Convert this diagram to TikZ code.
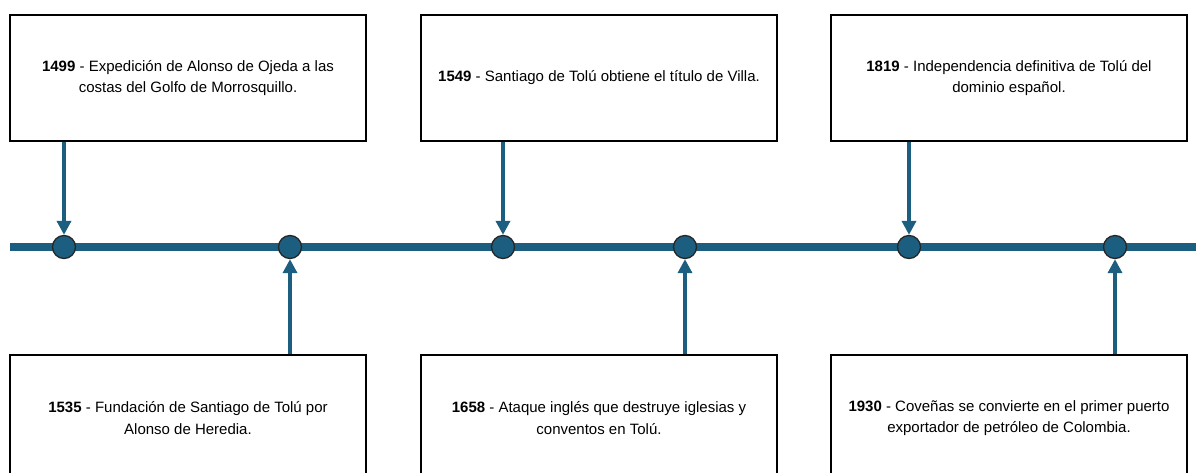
\documentclass[tikz,border=0pt]{standalone}
\usepackage{fontspec}
\setmainfont{Liberation Sans}
\usetikzlibrary{arrows.meta}
\definecolor{tl}{HTML}{1C5E80}
\begin{document}
\begin{tikzpicture}[x=1pt,y=-1pt,
  evbox/.style={draw=black,line width=1.6pt,fill=white,minimum width=356pt,minimum height=126pt,
    align=center,font=\fontsize{15}{21.5}\selectfont,inner sep=0pt},
  dot/.style={circle,draw=black!85,line width=1.3pt,fill=tl,minimum size=23pt,inner sep=0pt},
  conn/.style={draw=tl,line width=3.6pt,-{Triangle[length=14pt,width=14pt]}}]
\useasboundingbox (0,0) rectangle (1196,472);
\begin{scope}
\clip (0,0) rectangle (1196,472);
% timeline
\draw[tl,line width=8pt] (10,247) -- (1200,247);
% boxes
\node[evbox] (b1) at (188,78) {\textbf{1499} - Expedición de Alonso de Ojeda a las\\costas del Golfo de Morrosquillo.};
\node[evbox] (b3) at (599,78) {\textbf{1549} - Santiago de Tolú obtiene el título de Villa.};
\node[evbox] (b5) at (1009,78) {\textbf{1819} - Independencia definitiva de Tolú del\\dominio español.};
\node[evbox] (b2) at (188,418) {\textbf{1535} - Fundación de Santiago de Tolú por\\Alonso de Heredia.};
\node[evbox] (b4) at (599,418) {\textbf{1658} - Ataque inglés que destruye iglesias y\\conventos en Tolú.};
\node[evbox] (b6) at (1009,418) {\textbf{1930} - Coveñas se convierte en el primer puerto\\exportador de petróleo de Colombia.};
% dots
\node[dot] (d1) at (64,247) {};
\node[dot] (d2) at (290,247) {};
\node[dot] (d3) at (503,247) {};
\node[dot] (d4) at (685,247) {};
\node[dot] (d5) at (909,247) {};
\node[dot] (d6) at (1115,247) {};
% connectors
\draw[conn] (d1 |- b1.south) -- (d1.north);
\draw[conn] (d3 |- b3.south) -- (d3.north);
\draw[conn] (d5 |- b5.south) -- (d5.north);
\draw[conn] (d2 |- b2.north) -- (d2.south);
\draw[conn] (d4 |- b4.north) -- (d4.south);
\draw[conn] (d6 |- b6.north) -- (d6.south);
\end{scope}
\end{tikzpicture}
\end{document}
